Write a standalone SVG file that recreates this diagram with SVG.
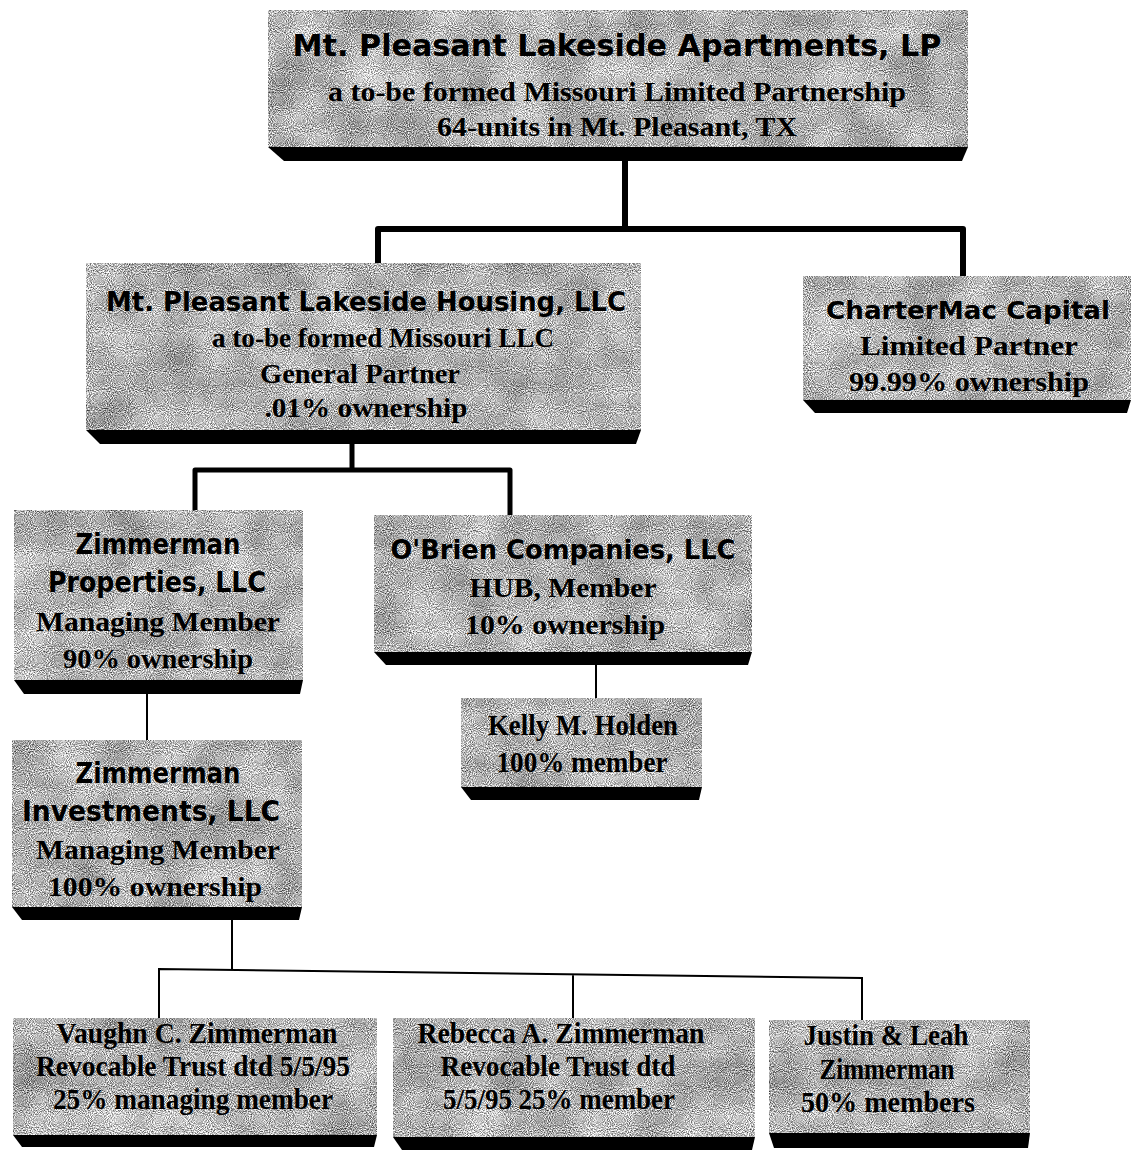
<svg xmlns="http://www.w3.org/2000/svg" width="1134" height="1151" viewBox="0 0 1134 1151">
<style>
.face{fill:#aaaaaa;filter:url(#grain)}
.sh{fill:#000}
.t{font-family:"DejaVu Sans","Noto Sans",sans-serif;font-weight:bold;fill:#000;text-anchor:middle}
.b{font-family:"Liberation Serif","Times New Roman",serif;font-weight:bold;fill:#000;text-anchor:middle}
.thick{stroke:#000;stroke-width:6;fill:none;stroke-linejoin:round;stroke-linecap:butt}
.mid{stroke:#000;stroke-width:5;fill:none;stroke-linejoin:round}
.thin{stroke:#000;stroke-width:2;fill:none}
</style>
<defs>
<filter id="grain" x="0" y="0" width="1" height="1" color-interpolation-filters="sRGB">
<feTurbulence type="fractalNoise" baseFrequency="0.95" numOctaves="1" seed="7" result="f0"/>
<feColorMatrix in="f0" type="matrix" values="1 0 0 0 0 1 0 0 0 0 1 0 0 0 0 0 0 0 0 1" result="fine"/>
<feTurbulence type="fractalNoise" baseFrequency="0.02" numOctaves="3" seed="2" result="c0"/>
<feColorMatrix in="c0" type="matrix" values="1 0 0 0 0 1 0 0 0 0 1 0 0 0 0 0 0 0 0 1" result="coarse"/>
<feComposite in="fine" in2="coarse" operator="arithmetic" k1="0" k2="1.6" k3="0.35" k4="-0.28" result="mix"/>
<feComposite in="mix" in2="SourceGraphic" operator="in"/>
</filter>
</defs>
<rect width="1134" height="1151" fill="#fff"/>

<g id="connectors">
<path class="thick" d="M625,160 V229 M378,263 V229 H963 V276"/>
<path class="mid" d="M352,443 V470 M195,510 V470 H510 V515"/>
<path class="thin" d="M596,665 V698"/>
<path class="thin" d="M147,694 V740"/>
<path class="thin" d="M232,920 V969 M159,1018 V969 L862,978 V1020 M573,974 V1018"/>
</g>

<g id="n-lp">
<rect class="face" x="268" y="10" width="700" height="137"/>
<polygon class="sh" points="268,147 968,147 962,161 284,161"/>
<text class="t" x="617" y="56" font-size="30" textLength="649" lengthAdjust="spacingAndGlyphs">Mt. Pleasant Lakeside Apartments, LP</text>
<text class="b" x="617" y="101" font-size="28" textLength="578" lengthAdjust="spacingAndGlyphs">a to-be formed Missouri Limited Partnership</text>
<text class="b" x="617" y="136" font-size="28" textLength="360" lengthAdjust="spacingAndGlyphs">64-units in Mt. Pleasant, TX</text>
</g>

<g id="n-housing">
<rect class="face" x="86" y="263" width="555" height="167"/>
<polygon class="sh" points="86,430 641,430 636,444 100,444"/>
<text class="t" x="366" y="311" font-size="27" textLength="520" lengthAdjust="spacingAndGlyphs">Mt. Pleasant Lakeside Housing, LLC</text>
<text class="b" x="383" y="347" font-size="28" textLength="342" lengthAdjust="spacingAndGlyphs">a to-be formed Missouri LLC</text>
<text class="b" x="360" y="383" font-size="28" textLength="200" lengthAdjust="spacingAndGlyphs">General Partner</text>
<text class="b" x="366" y="417" font-size="28" textLength="203" lengthAdjust="spacingAndGlyphs">.01% ownership</text>
</g>

<g id="n-chartermac">
<rect class="face" x="803" y="276" width="328" height="124"/>
<polygon class="sh" points="803,400 1131,400 1127,413 815,413"/>
<text class="t" x="968" y="319" font-size="25" textLength="284" lengthAdjust="spacingAndGlyphs">CharterMac Capital</text>
<text class="b" x="969" y="355" font-size="28" textLength="218" lengthAdjust="spacingAndGlyphs">Limited Partner</text>
<text class="b" x="969" y="391" font-size="28" textLength="240" lengthAdjust="spacingAndGlyphs">99.99% ownership</text>
</g>

<g id="n-zprops">
<rect class="face" x="14" y="510" width="289" height="170"/>
<polygon class="sh" points="14,680 303,680 300,694 24,694"/>
<text class="t" x="158" y="554" font-size="28" textLength="165" lengthAdjust="spacingAndGlyphs">Zimmerman</text>
<text class="t" x="157" y="592" font-size="28" textLength="218" lengthAdjust="spacingAndGlyphs">Properties, LLC</text>
<text class="b" x="158" y="631" font-size="28" textLength="244" lengthAdjust="spacingAndGlyphs">Managing Member</text>
<text class="b" x="158" y="668" font-size="28" textLength="190" lengthAdjust="spacingAndGlyphs">90% ownership</text>
</g>

<g id="n-obrien">
<rect class="face" x="374" y="515" width="378" height="137"/>
<polygon class="sh" points="374,652 752,652 748,665 386,665"/>
<text class="t" x="563" y="559" font-size="27" textLength="345" lengthAdjust="spacingAndGlyphs">O'Brien Companies, LLC</text>
<text class="b" x="563" y="597" font-size="28" textLength="187" lengthAdjust="spacingAndGlyphs">HUB, Member</text>
<text class="b" x="565" y="634" font-size="28" textLength="200" lengthAdjust="spacingAndGlyphs">10% ownership</text>
</g>

<g id="n-kelly">
<rect class="face" x="461" y="698" width="241" height="89"/>
<polygon class="sh" points="461,787 702,787 699,800 471,800"/>
<text class="b" x="583" y="735" font-size="29" textLength="190" lengthAdjust="spacingAndGlyphs">Kelly M. Holden</text>
<text class="b" x="582" y="772" font-size="29" textLength="171" lengthAdjust="spacingAndGlyphs">100% member</text>
</g>

<g id="n-zinv">
<rect class="face" x="12" y="740" width="290" height="167"/>
<polygon class="sh" points="12,907 302,907 299,920 22,920"/>
<text class="t" x="158" y="783" font-size="28" textLength="165" lengthAdjust="spacingAndGlyphs">Zimmerman</text>
<text class="t" x="151" y="821" font-size="28" textLength="258" lengthAdjust="spacingAndGlyphs">Investments, LLC</text>
<text class="b" x="158" y="859" font-size="28" textLength="244" lengthAdjust="spacingAndGlyphs">Managing Member</text>
<text class="b" x="155" y="896" font-size="28" textLength="214" lengthAdjust="spacingAndGlyphs">100% ownership</text>
</g>

<g id="n-vaughn">
<rect class="face" x="13" y="1018" width="364" height="117"/>
<polygon class="sh" points="13,1135 377,1135 374,1147 22,1147"/>
<text class="b" x="197" y="1043" font-size="30" textLength="281" lengthAdjust="spacingAndGlyphs">Vaughn C. Zimmerman</text>
<text class="b" x="193" y="1076" font-size="30" textLength="314" lengthAdjust="spacingAndGlyphs">Revocable Trust dtd 5/5/95</text>
<text class="b" x="193" y="1109" font-size="30" textLength="280" lengthAdjust="spacingAndGlyphs">25% managing member</text>
</g>

<g id="n-rebecca">
<rect class="face" x="393" y="1018" width="362" height="119"/>
<polygon class="sh" points="393,1137 755,1137 752,1150 402,1150"/>
<text class="b" x="561" y="1043" font-size="30" textLength="287" lengthAdjust="spacingAndGlyphs">Rebecca A. Zimmerman</text>
<text class="b" x="558" y="1076" font-size="30" textLength="235" lengthAdjust="spacingAndGlyphs">Revocable Trust dtd</text>
<text class="b" x="559" y="1109" font-size="30" textLength="232" lengthAdjust="spacingAndGlyphs">5/5/95 25% member</text>
</g>

<g id="n-justin">
<rect class="face" x="769" y="1020" width="261" height="113"/>
<polygon class="sh" points="769,1133 1030,1133 1028,1148 774,1148"/>
<text class="b" x="886" y="1045" font-size="30" textLength="165" lengthAdjust="spacingAndGlyphs">Justin &amp; Leah</text>
<text class="b" x="887" y="1079" font-size="30" textLength="135" lengthAdjust="spacingAndGlyphs">Zimmerman</text>
<text class="b" x="888" y="1112" font-size="30" textLength="174" lengthAdjust="spacingAndGlyphs">50% members</text>
</g>
</svg>
